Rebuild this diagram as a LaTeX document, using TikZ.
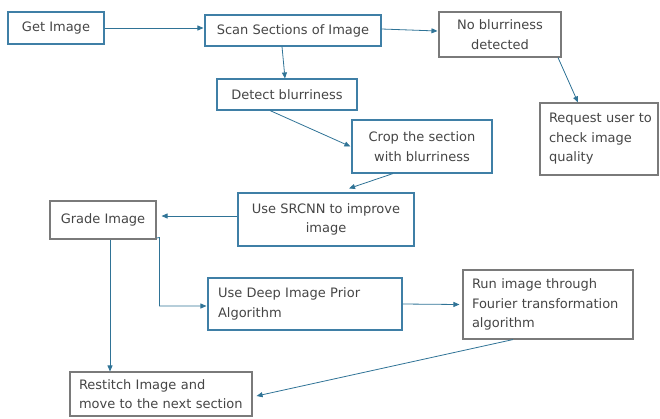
\documentclass[tikz,border=0pt]{standalone}
\usepackage{fontspec}
\setmainfont{DejaVu Sans}
\usetikzlibrary{arrows.meta}
\definecolor{bluebd}{HTML}{3F7FA6}
\definecolor{arr}{HTML}{2F7396}
\definecolor{graybd}{HTML}{7A7A7A}
\definecolor{txt}{HTML}{454545}
\tikzset{
  box/.style={draw, line width=1.1pt, inner sep=0pt, font=\fontsize{13}{19.5}\selectfont, text=txt, align=center},
  bbox/.style={box, draw=bluebd},
  gbox/.style={box, draw=graybd},
  conn/.style={draw=arr, line width=0.8pt, -{Triangle[length=6pt,width=5pt]}},
}
\begin{document}
\begin{tikzpicture}[x=1pt,y=-1pt]
\useasboundingbox (0,0) rectangle (660,418);
\node[bbox, minimum width=96pt, minimum height=32pt] (get) at (56,28) {Get Image};
\node[bbox, minimum width=176pt, minimum height=31pt] (scan) at (293,30.5) {Scan Sections of Image};
\node[gbox, minimum width=122pt, minimum height=45pt] (nob) at (500,34.5) {No blurriness\\detected};
\node[gbox, minimum width=118pt, minimum height=72pt, text width=110pt, align=left] (req) at (599,139) {\hspace*{5pt}Request user to\\\hspace*{5pt}check image\\\hspace*{5pt}quality};
\node[bbox, minimum width=140pt, minimum height=31pt] (det) at (287,94.5) {Detect blurriness};
\node[bbox, minimum width=140pt, minimum height=53pt] (crop) at (422,146.5) {Crop the section\\with blurriness};
\node[bbox, minimum width=176pt, minimum height=53pt] (srcnn) at (326,219.5) {Use SRCNN to improve\\image};
\node[gbox, minimum width=106pt, minimum height=38pt] (grade) at (103,220) {Grade Image};
\node[bbox, minimum width=194pt, minimum height=52pt, text width=174pt, align=left] (deep) at (305,304) {Use Deep Image Prior\\Algorithm};
\node[gbox, minimum width=170pt, minimum height=69pt, text width=152pt, align=left] (four) at (548,304.5) {Run image through\\Fourier transformation\\algorithm};
\node[gbox, minimum width=182pt, minimum height=44pt, text width=164pt, align=left] (rest) at (161,394) {Restitch Image and\\move to the next section};
\coordinate (gr1) at (159.5,237.5);
\coordinate (gr2) at (159.5,306);
\draw[conn] (get.east) -- ([xshift=-1pt]get.east -| scan.west);
\draw[conn] ([yshift=1.5pt]scan.east) -- ([xshift=-1pt,yshift=3.5pt]nob.west);
\draw[conn] ([xshift=-11pt]scan.south) -- ([xshift=-2pt]det.north);
\draw[conn] ([xshift=58pt]nob.south) -- ([xshift=-21pt]req.north);
\draw[conn] ([xshift=-17pt]det.south) -- ([xshift=-1pt]crop.west);
\draw[conn] ([xshift=-29pt]crop.south) -- ([xshift=23pt,yshift=4pt]srcnn.north);
\draw[conn] ([yshift=3.5pt]srcnn.west) -- ([xshift=5pt,yshift=4pt]grade.east);
\draw[conn] ([yshift=1.5pt]grade.south east) -- (gr1) -- (gr2) -- ([xshift=-1pt]gr2 -| deep.west);
\draw[conn] ([xshift=7pt]grade.south) -- ([xshift=-51pt]rest.north);
\draw[conn] (deep.east) -- ([xshift=-3pt]four.west);
\draw[conn] ([xshift=-35pt]four.south) -- ([xshift=4pt,yshift=-2pt]rest.east);
\end{tikzpicture}
\end{document}
